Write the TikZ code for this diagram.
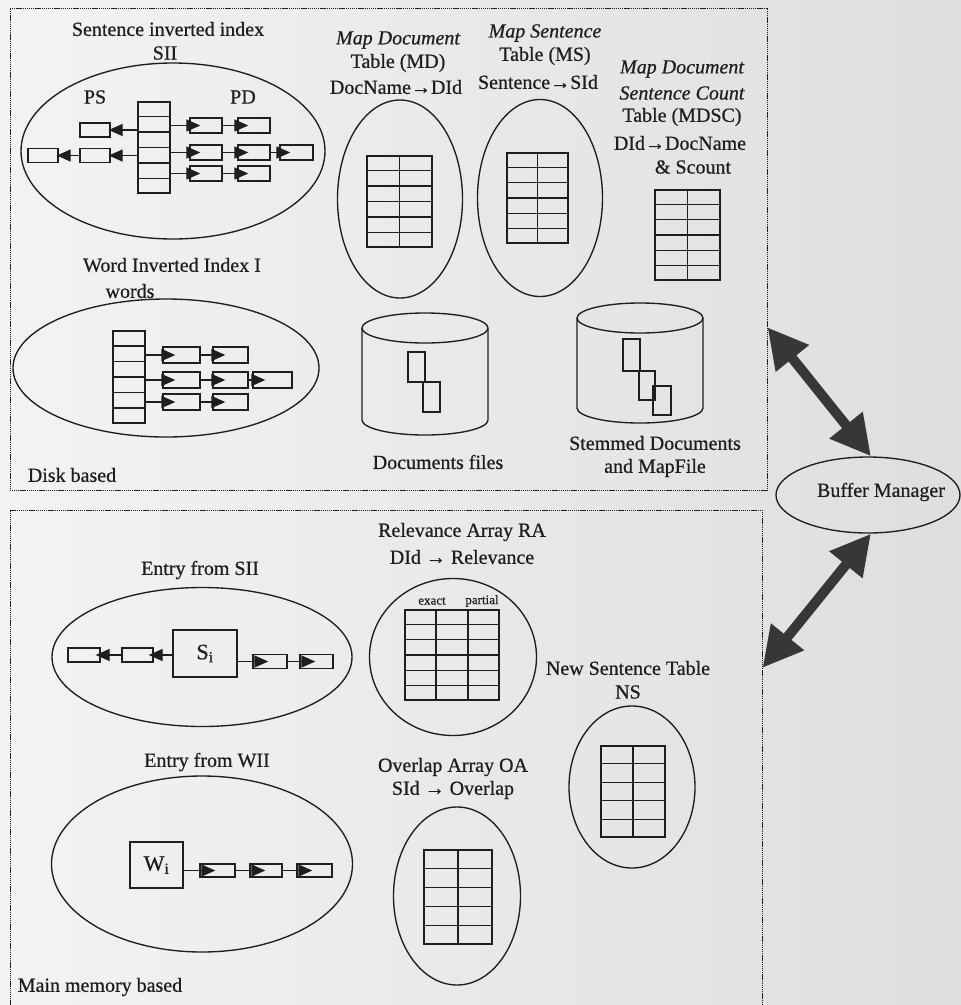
\documentclass[tikz,border=0pt]{standalone}
\usepackage{fontspec}
\setmainfont{Liberation Serif}[FakeBold=0.6]
\usetikzlibrary{arrows.meta,shapes.geometric,calc}
\definecolor{ink}{RGB}{30,30,30}
\definecolor{bgl}{RGB}{243,243,243}
\definecolor{bgr}{RGB}{222,222,222}
\definecolor{arr}{RGB}{55,55,55}
\newcommand\myrows[2]{%
  \pgfmathtruncatemacro\myn{#2-1}%
  \foreach \i in {1,...,\myn}{\draw[inkline] ($(#1.north west)!\i/#2!(#1.south west)$) -- ($(#1.north east)!\i/#2!(#1.south east)$);}}
\newcommand\mycols[2]{%
  \pgfmathtruncatemacro\myn{#2-1}%
  \foreach \i in {1,...,\myn}{\draw[inkline,line width=1.9pt] ($(#1.north west)!\i/#2!(#1.north east)$) -- ($(#1.south west)!\i/#2!(#1.south east)$);}}
\begin{document}
\begin{tikzpicture}[x=1pt,y=-1pt,
  inkline/.style={draw=ink, line width=1.35pt},
  oval/.style={ellipse, draw=ink, line width=1.35pt, inner sep=0},
  cell/.style={rectangle, draw=ink, line width=1.35pt, inner sep=0, minimum width=32pt, minimum height=15pt},
  tbl/.style={rectangle, draw=ink, line width=1.35pt, inner sep=0},
  dbox/.style={rectangle, draw=ink, line width=0.9pt, dash pattern=on 1.2pt off 0.7pt, inner sep=0},
  lbl/.style={text=ink, font=\fontsize{20}{22}\selectfont, inner sep=0},
  ital/.style={text=ink, font=\fontsize{20}{22}\selectfont\itshape, inner sep=0},
  small/.style={text=ink, font=\fontsize{13}{15}\selectfont, inner sep=0},
  la/.style={draw=ink, line width=1.35pt, -{Triangle[length=14pt,width=12pt]}},
  big/.style={draw=arr, line width=10pt, {Triangle[length=40pt,width=40pt]}-{Triangle[length=40pt,width=40pt]}}
]
\useasboundingbox (0,0) rectangle (961,1005);
\clip (0,0) rectangle (961,1005);
\shade[left color=bgl,right color=bgr] (0,0) rectangle (961,1005);

% ---------- frames ----------
\node[dbox, minimum width=757pt, minimum height=482pt] (diskbox) at (388.5,249) {};
\node[dbox, minimum width=752pt, minimum height=505pt] (membox) at (386,762.5) {};

% ---------- Sentence inverted index ----------
\node[lbl] (t1) at (168,29) {Sentence inverted index};
\node[lbl] (t2) at (165,53) {SII};
\node[oval, minimum width=304pt, minimum height=176pt] (siiE) at (173,151) {};
\node[lbl] (tps) at (95,97) {PS};
\node[lbl] (tpd) at (243,97) {PD};
\node[tbl, minimum width=32pt, minimum height=91pt] (siiC) at (154,147.5) {};
\myrows{siiC}{6}
\node[cell] (r11) at (206,125.5) {};
\node[cell] (r12) at (254,125.5) {};
\node[cell] (r21) at (206,152.5) {};
\node[cell] (r22) at (254,152.5) {};
\node[cell, minimum width=33pt] (r23) at (296.5,152.5) {};
\node[cell] (r31) at (206,173.5) {};
\node[cell] (r32) at (254,173.5) {};
\node[cell, minimum width=30pt, minimum height=14pt] (l11) at (95,130) {};
\node[cell, minimum width=30pt, minimum height=14pt] (l21) at (95,155.5) {};
\node[cell, minimum width=30pt, minimum height=14pt] (l22) at (43,155.5) {};
\draw[la] (siiC.east |- r11.west) -- ([xshift=11pt]r11.west);
\draw[la] (siiC.east |- r21.west) -- ([xshift=11pt]r21.west);
\draw[la] (siiC.east |- r31.west) -- ([xshift=11pt]r31.west);
\foreach \a/\b in {r11/r12, r21/r22, r22/r23, r31/r32}
  \draw[la] (\a.east) -- ([xshift=11pt]\b.west);
\draw[la] (siiC.west |- l11.east) -- ([xshift=-2pt]l11.east);
\draw[la] (siiC.west |- l21.east) -- ([xshift=-2pt]l21.east);
\draw[la] (l21.west) -- ([xshift=-2pt]l22.east);

% ---------- Word inverted index ----------
\node[lbl] (t3) at (172,265) {Word Inverted Index I};
\node[lbl] (t4) at (130,291) {words};
\node[oval, minimum width=306pt, minimum height=138pt] (wiiE) at (166,368) {};
\node[tbl, minimum width=32pt, minimum height=92pt] (wiiC) at (129,377) {};
\myrows{wiiC}{6}
\node[cell, minimum width=37pt, minimum height=16pt] (w11) at (181.5,355) {};
\node[cell, minimum width=35pt, minimum height=16pt] (w12) at (230.5,355) {};
\node[cell, minimum width=37pt, minimum height=16pt] (w21) at (181.5,380) {};
\node[cell, minimum width=35pt, minimum height=16pt] (w22) at (230.5,380) {};
\node[cell, minimum width=39pt, minimum height=16pt] (w23) at (272.5,380) {};
\node[cell, minimum width=37pt, minimum height=16pt] (w31) at (181.5,402) {};
\node[cell, minimum width=35pt, minimum height=16pt] (w32) at (230.5,402) {};
\draw[la] (wiiC.east |- w11.west) -- ([xshift=13pt]w11.west);
\draw[la] (wiiC.east |- w21.west) -- ([xshift=13pt]w21.west);
\draw[la] (wiiC.east |- w31.west) -- ([xshift=13pt]w31.west);
\foreach \a/\b in {w11/w12, w21/w22, w22/w23, w31/w32}
  \draw[la] (\a.east) -- ([xshift=13pt]\b.west);
\node[lbl] (t5) at (72,475) {Disk based};

% ---------- MD ----------
\node[ital] (t6) at (398,40) {Map Document};
\node[lbl] (t7) at (398,63) {Table (MD)};
\node[lbl] (t8) at (396,87) {DocName→DId};
\node[oval, minimum width=125pt, minimum height=198pt] (mdE) at (400,199) {};
\node[tbl, minimum width=65pt, minimum height=91pt] (mdT) at (399.5,201.5) {};
\myrows{mdT}{6}\mycols{mdT}{2}

% ---------- MS ----------
\node[ital] (t9) at (545,33) {Map Sentence};
\node[lbl] (t10) at (545,56) {Table (MS)};
\node[lbl] (t11) at (538,82) {Sentence→SId};
\node[oval, minimum width=125pt, minimum height=197pt] (msE) at (540,198) {};
\node[tbl, minimum width=61pt, minimum height=90pt] (msT) at (537.5,198) {};
\myrows{msT}{6}\mycols{msT}{2}

% ---------- MDSC ----------
\node[ital] (t12) at (682,69) {Map Document};
\node[ital] (t13) at (682,93) {Sentence Count};
\node[lbl] (t14) at (682,117) {Table (MDSC)};
\node[lbl] (t15) at (680,143) {DId→DocName};
\node[lbl] (t16) at (693,167) {\& Scount};
\node[tbl, minimum width=65pt, minimum height=90pt] (mdscT) at (687.5,235) {};
\myrows{mdscT}{6}\mycols{mdscT}{2}

% ---------- cylinders ----------
\draw[inkline] (425,328) ellipse [x radius=63, y radius=15];
\draw[inkline] (362,328) -- (362,420) arc[start angle=180, end angle=0, x radius=63, y radius=15] -- (488,328);
\draw[inkline] (408,352) rectangle (425,382);
\draw[inkline] (423,382) rectangle (440,412);
\node[lbl] (t17) at (438,462) {Documents files};

\draw[inkline] (640,318) ellipse [x radius=63, y radius=15];
\draw[inkline] (577,318) -- (577,408) arc[start angle=180, end angle=0, x radius=63, y radius=15] -- (703,318);
\draw[inkline] (623,339) rectangle (640,371);
\draw[inkline] (639,371) rectangle (655,400);
\draw[inkline] (653,386) rectangle (671,415);
\node[lbl] (t18) at (655,443) {Stemmed Documents};
\node[lbl] (t19) at (655,468) {and MapFile};

% ---------- Buffer manager ----------
\node[oval, minimum width=184pt, minimum height=76pt] (bm) at (868,495) {};
\node[lbl] (t20) at (881,492) {Buffer Manager};
\draw[big] ($(diskbox.north east)!0.662!(diskbox.south east)$) -- ([xshift=3pt]bm.north);
\draw[big] ([xshift=3pt]bm.south) -- ($(membox.north east)!0.313!(membox.south east)$);

% ---------- Entry from SII ----------
\node[lbl] (t21) at (200,570) {Entry from SII};
\node[oval, minimum width=300pt, minimum height=139pt] (esE) at (202,657) {};
\node[tbl, minimum width=64pt, minimum height=47pt, lbl] (si) at (205,653.5) {\fontsize{22}{24}\selectfont S\textsubscript{i}};
\node[cell, minimum width=34pt, minimum height=14pt] (e1) at (270,661.5) {};
\node[cell, minimum width=33pt, minimum height=14pt] (e2) at (316.5,661.5) {};
\node[cell, minimum width=31pt, minimum height=14pt] (e3) at (137.5,655) {};
\node[cell, minimum width=32pt, minimum height=14pt] (e4) at (84,655) {};
\draw[la] (si.east |- e1.west) -- ([xshift=16pt]e1.west);
\draw[la] (e1.east) -- ([xshift=16pt]e2.west);
\draw[la] (si.west |- e3.east) -- ([xshift=-5pt]e3.east);
\draw[la] (e3.west) -- ([xshift=-5pt]e4.east);

% ---------- Entry from WII ----------
\node[lbl] (t22) at (207,762) {Entry from WII};
\node[oval, minimum width=301pt, minimum height=176pt] (ewE) at (202,864) {};
\node[tbl, minimum width=53pt, minimum height=46pt, lbl] (wi) at (156.5,865) {\fontsize{22}{24}\selectfont W\textsubscript{i}};
\node[cell, minimum width=35pt, minimum height=13pt] (f1) at (217.5,870.5) {};
\node[cell, minimum width=32pt, minimum height=13pt] (f2) at (266,870.5) {};
\node[cell, minimum width=35pt, minimum height=13pt] (f3) at (314.5,870.5) {};
\draw[la] (wi.east |- f1.west) -- ([xshift=16pt]f1.west);
\draw[la] (f1.east) -- ([xshift=16pt]f2.west);
\draw[la] (f2.east) -- ([xshift=16pt]f3.west);
\node[lbl] (t23) at (100,987) {Main memory based};

% ---------- Relevance array ----------
\node[lbl] (t24) at (462,532) {Relevance Array RA};
\node[lbl] (t25) at (462,557) {DId → Relevance};
\node[oval, minimum width=167pt, minimum height=157pt] (raE) at (453,657) {};
\node[small] (t26) at (432,601) {exact};
\node[small] (t27) at (482,601) {partial};
\node[tbl, minimum width=94pt, minimum height=90pt] (raT) at (452,655) {};
\myrows{raT}{6}\mycols{raT}{3}

% ---------- New sentence table ----------
\node[lbl] (t28) at (628,668) {New Sentence Table};
\node[lbl] (t29) at (628,692) {NS};
\node[oval, minimum width=126pt, minimum height=162pt] (nsE) at (632,787) {};
\node[tbl, minimum width=64pt, minimum height=91pt] (nsT) at (633,791.5) {};
\myrows{nsT}{5}\mycols{nsT}{2}

% ---------- Overlap array ----------
\node[lbl] (t30) at (453,767) {Overlap Array OA};
\node[lbl] (t31) at (453,790) {SId → Overlap};
\node[oval, minimum width=127pt, minimum height=178pt] (oaE) at (457,896) {};
\node[tbl, minimum width=68pt, minimum height=94pt] (oaT) at (458,897) {};
\myrows{oaT}{5}\mycols{oaT}{2}
\end{tikzpicture}
\end{document}
